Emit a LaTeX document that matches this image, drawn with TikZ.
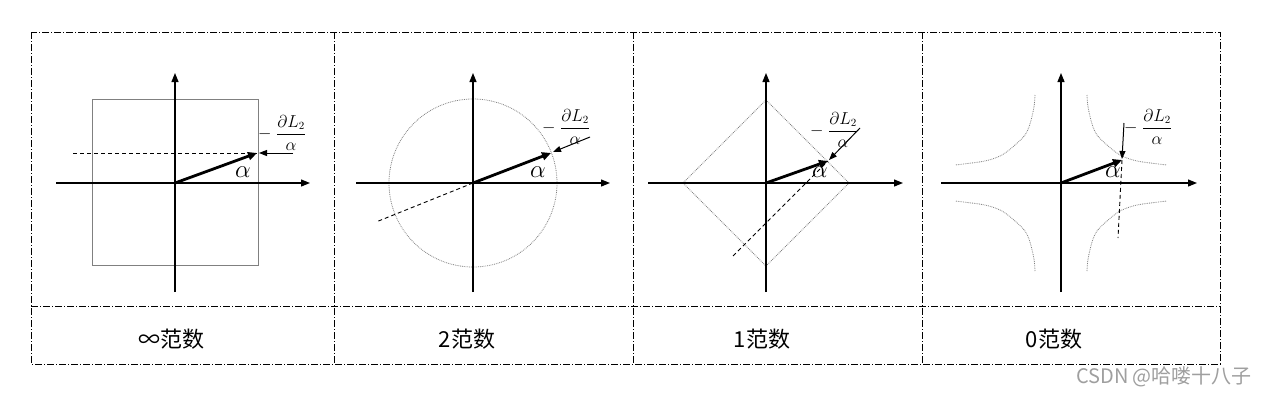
\documentclass[tikz,border=0pt]{standalone}
\usepackage{amsmath}
\usepackage{fontspec}
\newfontfamily\cjk{Noto Sans CJK SC}
\usetikzlibrary{arrows.meta}
\begin{document}
\begin{tikzpicture}[x=1pt,y=-1pt,
  frame/.style={line width=0.8pt, dash pattern=on 7pt off 2pt on 1pt off 2pt},
  axis/.style={line width=1.2pt, -{Triangle[length=9pt,width=7pt]}},
  vec/.style={line width=2.8pt, -{Triangle[length=9pt,width=8pt]}},
  grad/.style={line width=1pt, -{Triangle[length=8pt,width=6pt]}},
  normbox/.style={gray, line width=0.8pt},
  normdot/.style={gray, line width=0.8pt, densely dotted},
  dsh/.style={line width=0.9pt, dash pattern=on 4pt off 3pt},
  lbl/.style={font=\fontsize{16}{18}\selectfont, inner sep=0pt},
  al/.style={font=\fontsize{27}{30}\selectfont, inner sep=0pt},
  captext/.style={font=\cjk\fontsize{22}{26}\selectfont, inner sep=0pt},
  wm/.style={font=\cjk\fontsize{20}{23}\selectfont, text=gray!75, inner sep=0pt}]
\useasboundingbox (0,0) rectangle (1262,400);
\fill[white] (0,0) rectangle (1262,400);

% frame
\coordinate (tl) at (31,32);
\coordinate (br) at (1220,364);
\draw[frame] (tl) rectangle (br);
\coordinate (hl) at (31,306); \coordinate (hr) at (1220,306);
\draw[frame] (hl) -- (hr);
\foreach \x [count=\i] in {334,633,922}{
  \coordinate (vt\i) at (\x,32); \coordinate (vb\i) at (\x,364);
  \draw[frame] (vt\i) -- (vb\i);
}

% ---------- panel 1 : infinity norm ----------
\coordinate (o1) at (175,183);
\coordinate (xa1) at (56,183); \coordinate (xb1) at (310,183);
\coordinate (ya1) at (175,292); \coordinate (yb1) at (175,73);
\draw[normbox] (92,99) rectangle (258,265);
\coordinate (da1) at (73,153); \coordinate (t1) at (257,153);
\draw[dsh] (da1) -- (t1);
\draw[axis] (xa1) -- (xb1);
\draw[axis] (ya1) -- (yb1);
\draw[vec] (o1) -- (t1);
\coordinate (ga1) at (293,153); \coordinate (gb1) at (259,153);
\draw[grad] (ga1) -- (gb1);
\node[lbl] (l1) at (282,133) {$-\;\dfrac{\partial L_2}{\alpha}$};
\node[al] (a1) at (243,172) {$\alpha$};

% ---------- panel 2 : 2 norm ----------
\coordinate (o2) at (473,183);
\coordinate (xa2) at (356,183); \coordinate (xb2) at (610,183);
\coordinate (ya2) at (473,292); \coordinate (yb2) at (473,73);
\draw[normdot] (o2) circle[radius=84];
\coordinate (da2) at (376,222);
\draw[dsh] (o2) -- (da2);
\draw[axis] (xa2) -- (xb2);
\draw[axis] (ya2) -- (yb2);
\coordinate (t2) at (551,153);
\draw[vec] (o2) -- (t2);
\coordinate (ga2) at (590,137); \coordinate (gb2) at (553,152);
\draw[grad] (ga2) -- (gb2);
\node[lbl] (l2) at (566,127) {$-\;\dfrac{\partial L_2}{\alpha}$};
\node[al] (a2) at (538,172) {$\alpha$};

% ---------- panel 3 : 1 norm ----------
\coordinate (o3) at (766,183);
\coordinate (xa3) at (648,183); \coordinate (xb3) at (903,183);
\coordinate (ya3) at (766,292); \coordinate (yb3) at (766,73);
\coordinate (dt) at (766,100); \coordinate (dr) at (849,183);
\coordinate (db) at (766,266); \coordinate (dl) at (683,183);
\draw[normdot] (dt) -- (dr) -- (db) -- (dl) -- cycle;
\coordinate (da3) at (733,256); \coordinate (t3) at (828,161);
\draw[dsh] (da3) -- (t3);
\draw[axis] (xa3) -- (xb3);
\draw[axis] (ya3) -- (yb3);
\draw[vec] (o3) -- (t3);
\coordinate (ga3) at (860,128); \coordinate (gb3) at (829,160);
\draw[grad] (ga3) -- (gb3);
\node[lbl] (l3) at (834,130) {$-\;\dfrac{\partial L_2}{\alpha}$};
\node[al] (a3) at (820,172) {$\alpha$};

% ---------- panel 4 : 0 norm ----------
\coordinate (o4) at (1061,183);
\coordinate (xa4) at (941,183); \coordinate (xb4) at (1197,183);
\coordinate (ya4) at (1061,292); \coordinate (yb4) at (1061,73);
\foreach \sx/\sy in {1/1,-1/1,1/-1,-1/-1}{
  \begin{scope}[shift={(o4)}, xscale=\sx, yscale=\sy]
    \draw[normdot] plot[smooth] coordinates
      {(26,-88) (27,-76) (31,-59) (36,-48) (46,-38) (59,-28) (76,-22) (106,-18)};
  \end{scope}
}
\coordinate (t4) at (1122,160); \coordinate (da4) at (1118,238);
\draw[dsh] (t4) -- (da4);
\draw[axis] (xa4) -- (xb4);
\draw[axis] (ya4) -- (yb4);
\draw[vec] (o4) -- (t4);
\coordinate (ga4) at (1124,123); \coordinate (gb4) at (1122,159);
\draw[grad] (ga4) -- (gb4);
\node[lbl] (l4) at (1148,127) {$-\;\dfrac{\partial L_2}{\alpha}$};
\node[al] (a4) at (1113,172) {$\alpha$};

% ---------- captions ----------
\node[captext] (c1) at (171,339) {∞范数};
\node[captext] (c2) at (467,339) {2范数};
\node[captext] (c3) at (762,339) {1范数};
\node[captext] (c4) at (1054,339) {0范数};
\node[wm] (w) at (1164,377) {CSDN @哈喽十八子};
\end{tikzpicture}
\end{document}
